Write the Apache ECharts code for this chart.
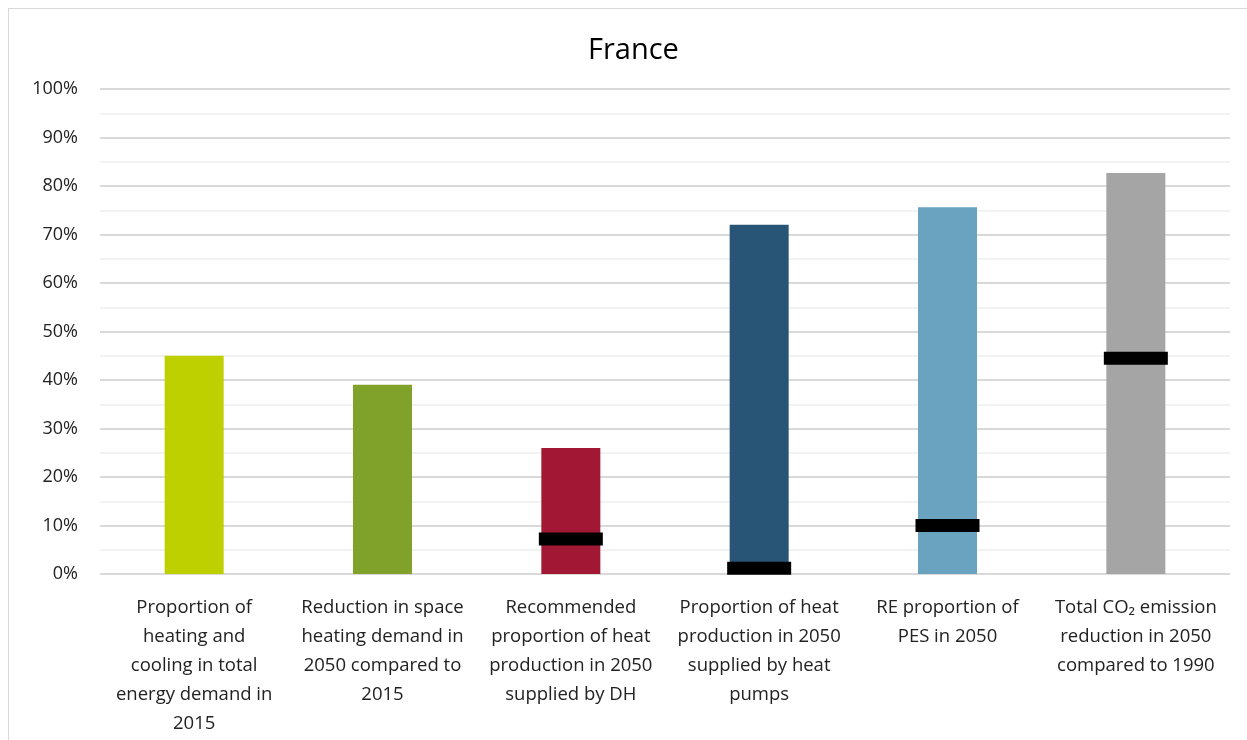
<!DOCTYPE html>
<html>
<head>
<meta charset="utf-8">
<script src="https://cdn.jsdelivr.net/npm/echarts@6/dist/echarts.min.js"></script>
<style>
  html, body { margin: 0; padding: 0; background: #fff; }
  #frame { position: absolute; left: 8px; top: 8px; width: 1260px; height: 760px; border: 1px solid #d9d9d9; box-sizing: border-box; }
  #chart { position: absolute; left: 0; top: 0; width: 1247px; height: 740px; }
</style>
</head>
<body>
<div id="frame"></div>
<div id="chart"></div>
<script>
// categories (line breaks as in the original)
const categories = [
  'Proportion of\nheating and\ncooling in total\nenergy demand in\n2015',
  'Reduction in space\nheating demand in\n2050 compared to\n2015',
  'Recommended\nproportion of heat\nproduction in 2050\nsupplied by DH',
  'Proportion of heat\nproduction in 2050\nsupplied by heat\npumps',
  'RE proportion of\nPES in 2050',
  'Total CO₂ emission\nreduction in 2050\ncompared to 1990'
];
const barValues = [45, 39, 26, 72, 75.6, 82.7];
const barColors = ['#bfd000', '#80a22b', '#a21834', '#285475', '#69a3c0', '#a5a5a5'];
// black marks = current level
const markValues = ['-', '-', 7.2, 1.2, 10, 44.5];

const chart = echarts.init(document.getElementById('chart'));

chart.setOption({
  animation: false,
  textStyle: { fontFamily: 'Open Sans' },
  title: {
    text: 'France',
    left: 583,
    top: 31,
    textStyle: { fontSize: 29, fontWeight: 'normal', color: '#000', fontFamily: 'Open Sans' }
  },
  grid: { left: 100, right: 17, top: 89, bottom: 166 },
  xAxis: {
    type: 'category',
    data: categories,
    axisLine: { show: false },
    axisTick: { show: false },
    axisLabel: {
      interval: 0,
      color: '#222',
      fontSize: 18.5,
      lineHeight: 29,
      margin: 19
    }
  },
  yAxis: {
    type: 'value',
    min: 0,
    max: 100,
    interval: 10,
    axisLabel: { formatter: '{value}%', color: '#222', fontSize: 18, margin: 22 },
    axisLine: { show: false },
    axisTick: { show: false },
    splitLine: { lineStyle: { color: '#d9d9d9', width: 2 } },
    minorTick: { show: false, splitNumber: 2 },
    minorSplitLine: { show: true, lineStyle: { color: '#f2f2f2', width: 2 } }
  },
  series: [
    {
      type: 'bar',
      barWidth: 59,
      data: barValues.map((v, i) => ({ value: v, itemStyle: { color: barColors[i] } }))
    },
    {
      type: 'scatter',
      symbol: 'rect',
      symbolSize: [64, 13],
      itemStyle: { color: '#000', opacity: 1 },
      z: 5,
      data: markValues
    }
  ]
});
</script>
</body>
</html>
